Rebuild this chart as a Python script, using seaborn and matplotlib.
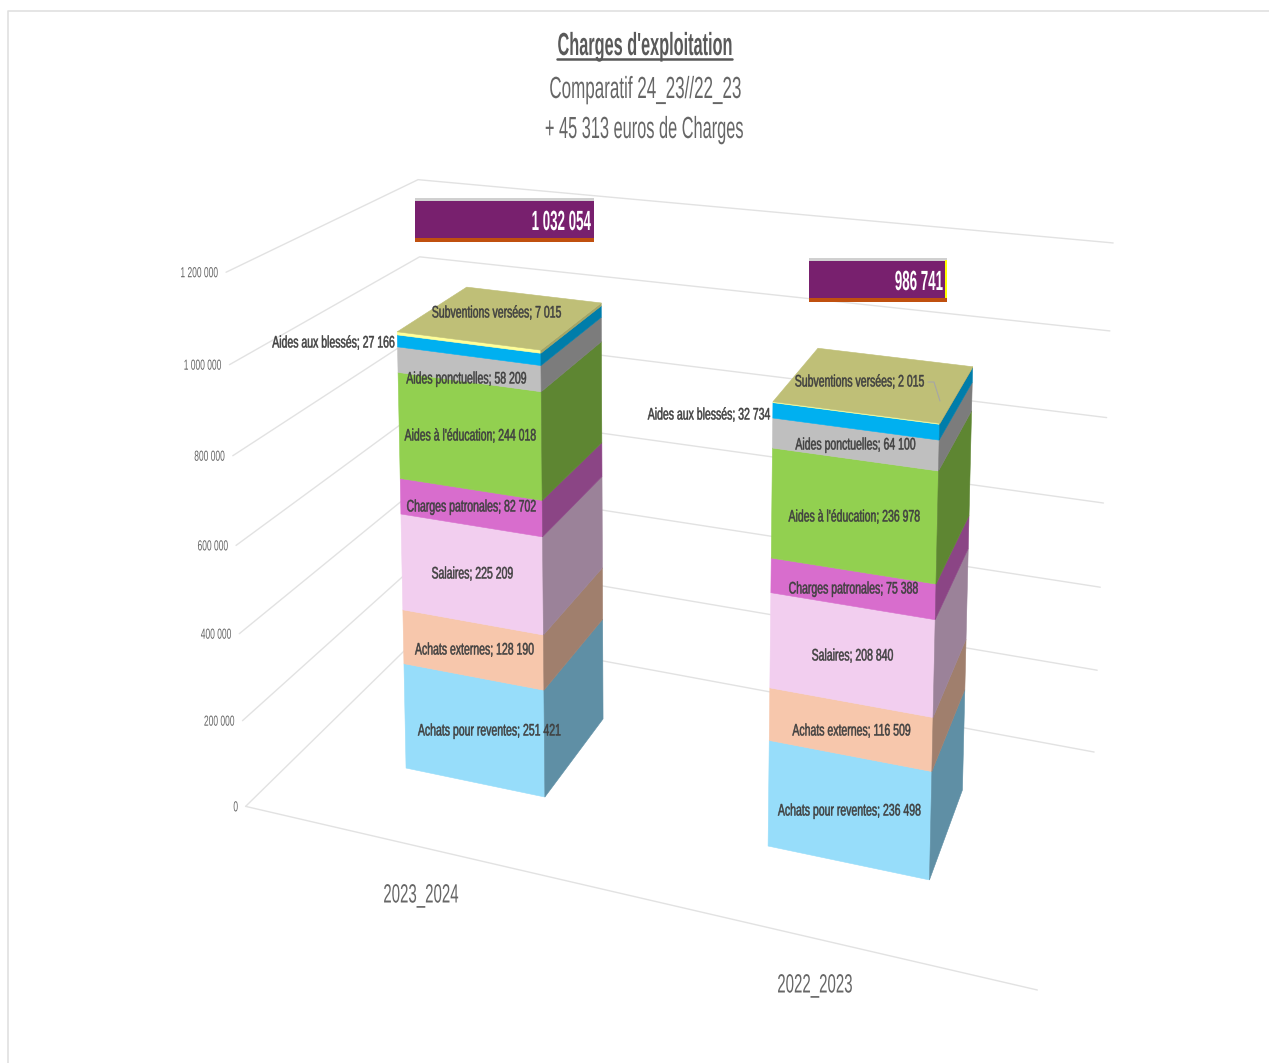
#!/usr/bin/env python3
# coding=utf-8

from matplotlib import pyplot as plt
from matplotlib.patheffects import AbstractPathEffect
from matplotlib.transforms import Affine2D, Transform
import numpy as np
import pandas as pd
import seaborn as sns

# donnees du graphique
exercices = ["2023_2024", "2022_2023"]
postes = ["Achats pour reventes", "Achats externes", "Salaires",
          "Charges patronales", "Aides à l'éducation", "Aides ponctuelles",
          "Aides aux blessés", "Subventions versées"]
montants_2023_2024 = [251421, 128190, 225209, 82702, 244018, 58209, 27166, 7015]
montants_2022_2023 = [236498, 116509, 208840, 75388, 236978, 64100, 32734, 2015]
totaux = [1032054, 986741]
graduations = [0, 200000, 400000, 600000, 800000, 1000000, 1200000]

# couleurs
couleurs_face = ["#97DDFA", "#F7C7AC", "#F2CEEF", "#D86DCD",
                 "#92D050", "#BFBFBF", "#00B0F0", "#FFFF99"]
couleurs_cote = ["#5F8FA5", "#A07F6D", "#9B8299", "#8B4585",
                 "#5E8632", "#7C7C7C", "#007DAA", "#A5A565"]
couleur_dessus = "#BFBF77"
GRIS_GRILLE = "#E2E2E2"
GRIS_TEXTE = "#666666"
NOIR_TEXTE = "#404040"

W, H = 1269, 1063
LARGEUR = 0.8

# reperes image pour le calage de la perspective (pixels)
MURS = [((0, 0, 0), (246, 807)), ((0, 1, 0), (427, 628)),
        ((1, 1, 0), (1094, 752)), ((1, 0, 0), (1037, 990)),
        ((0, 0, 1.2), (226, 272)), ((0, 1, 1.2), (418, 180)),
        ((1, 1, 1.2), (1113, 243)), ((0, 0, 0.6), (236, 545)),
        ((1, 1, 0.6), (1104, 503))]
COINS_BARRES = [
    [(406, 768), (545, 797), (603, 719),
     (397, 332), (541, 350), (601, 303), (467, 287)],
    [(768, 846), (930, 880), (962, 790),
     (773, 402), (939, 423), (973, 367), (818, 348)],
]

# positions des etiquettes (centre, pixels)
POS_LABELS = [
    [(489.5, 731), (474.5, 650), (472.5, 574), (471.5, 507),
     (470.5, 436), (466.5, 379), (333.5, 343), (496.5, 313)],
    [(849.5, 811), (851.5, 731), (852.5, 656), (853.5, 589),
     (854.5, 517), (855.5, 445), (709, 415), (859.5, 382)],
]
BOITES = [(415, 594, 198, 242, 591), (809, 947, 258, 302, 943)]


class Serre(AbstractPathEffect):
    # resserre le texte en largeur autour de x (pas de police etroite ici)
    def __init__(self, x, sx, trait=0.0):
        super().__init__()
        self.x = x
        self.sx = sx
        self.trait = trait

    def draw_path(self, renderer, gc, tpath, affine, rgbFace=None):
        aff = affine + Affine2D().translate(-self.x, 0).scale(self.sx, 1).translate(self.x, 0)
        gc0 = renderer.new_gc()
        gc0.copy_properties(gc)
        gc0.set_linewidth(self.trait)
        if self.trait:
            gc0.set_foreground(rgbFace)
        renderer.draw_path(gc0, tpath, aff, rgbFace)
        gc0.restore()


def sep(v):
    return f"{v:,}".replace(",", " ")


def calage(monde, pixels):
    # DLT : matrice 3x4 depuis des correspondances monde -> image
    A, b = [], []
    for (x, y, z), (u, v) in zip(monde, pixels):
        A.append([x, y, z, 1, 0, 0, 0, 0, -u * x, -u * y, -u * z])
        A.append([0, 0, 0, 0, x, y, z, 1, -v * x, -v * y, -v * z])
        b += [u, v]
    p = np.linalg.lstsq(np.array(A, float), np.array(b, float), rcond=None)[0]
    return np.append(p, 1).reshape(3, 4)


def projette(P, x, y, z):
    q = P @ np.array([x, y, z, 1.0])
    return q[0] / q[2], q[1] / q[2]


class FaceBarre(Transform):
    # (position categorielle, montant) -> pixel sur la face d'une barre
    input_dims = 2
    output_dims = 2
    is_affine = False

    def __init__(self, cameras, face):
        super().__init__()
        self.cameras = cameras
        self.face = face

    def transform_non_affine(self, values):
        out = []
        for x, val in np.asarray(values, float):
            i = int(round(x))
            t = (x - i) / LARGEUR + 0.5
            if self.face == "front":
                out.append(projette(self.cameras[i], t, 0, val / 1e6))
            else:
                out.append(projette(self.cameras[i], 1, t, val / 1e6))
        return np.array(out)


df = pd.DataFrame({
    "exercice": np.repeat(exercices, len(postes)),
    "poste": postes * 2,
    "montant": montants_2023_2024 + montants_2022_2023,
})
df["bas"] = df.groupby("exercice", sort=False)["montant"].cumsum() - df["montant"]
hauteurs = df.groupby("exercice", sort=False)["montant"].sum().values / 1e6

cube = [(0, 0, 0), (1, 0, 0), (1, 1, 0)]
cameras = []
for i, coins in enumerate(COINS_BARRES):
    monde = cube + [(0, 0, hauteurs[i]), (1, 0, hauteurs[i]),
                    (1, 1, hauteurs[i]), (0, 1, hauteurs[i])]
    cameras.append(calage(monde, coins))
cam_murs = calage([m[0] for m in MURS], [m[1] for m in MURS])

sns.set_theme(style="white")
plt.rcParams["font.family"] = ["Liberation Sans", "DejaVu Sans"]

fig = plt.figure(figsize=(W / 100, H / 100), dpi=100)
ax = fig.add_axes([0, 0, 1, 1])


def texte(x, y, s, sx, ha="center", trait=0.0, **kw):
    return ax.text(x, y, s, ha=ha, va="center",
                   path_effects=[Serre(x, sx, trait)], **kw)


# barres : une passe par face, chaque segment reste un barplot seaborn
for face, palette in (("front", couleurs_face), ("side", couleurs_cote)):
    tr = FaceBarre(cameras, face)
    for poste, couleur in zip(postes, palette):
        sub = df[df["poste"] == poste]
        n = len(ax.patches)
        sns.barplot(data=sub, x="exercice", y="montant", order=exercices,
                    bottom=sub["bas"].values, width=LARGEUR, color=couleur,
                    saturation=1, edgecolor=couleur, linewidth=0.4,
                    errorbar=None, ax=ax, zorder=3)
        for patch in ax.patches[n:]:
            patch.set_transform(tr + ax.transData)

ax.set_xlim(0, W)
ax.set_ylim(H, 0)
ax.axis("off")

# dessus des barres
for i, cam in enumerate(cameras):
    pts = [projette(cam, a, b, hauteurs[i]) for a, b in [(0, 0), (1, 0), (1, 1), (0, 1)]]
    ax.fill(*zip(*pts), color=couleur_dessus, lw=0.4, zorder=4)

# grille en perspective
for val in graduations:
    z = val / 1e6
    pts = [projette(cam_murs, 0, 0, z), projette(cam_murs, 0, 1, z),
           projette(cam_murs, 1, 1, z)]
    ax.plot(*zip(*pts), color=GRIS_GRILLE, lw=1.0, zorder=1)
    u, v = pts[0]
    texte(u - 7.5, v + 1, sep(val), 0.58, ha="right", fontsize=10.5, color=GRIS_TEXTE)
pts = [projette(cam_murs, 0, 0, 0), projette(cam_murs, 1, 0, 0)]
ax.plot(*zip(*pts), color=GRIS_GRILLE, lw=1.0, zorder=1)

# etiquettes de donnees
for i, montants in enumerate([montants_2023_2024, montants_2022_2023]):
    for poste, val, (u, v) in zip(postes, montants, POS_LABELS[i]):
        texte(u, v, f"{poste}; {sep(val)}", 0.63, trait=0.35,
              fontsize=12, color=NOIR_TEXTE, zorder=6)
ax.plot([928, 934, 940], [382, 382, 401], color="#A6A6A6", lw=0.8, zorder=5)

# boites des totaux
for (x0, x1, y0, y1, xt), total in zip(BOITES, totaux):
    ax.fill_between([x0, x1], y0, y0 + 3, color="#D0D0D0", lw=0, zorder=5)
    ax.fill_between([x0, x1], y0 + 3, y1 - 4, color="#78206E", lw=0, zorder=5)
    ax.fill_between([x0, x1], y1 - 4, y1, color="#C0500F", lw=0, zorder=5)
    texte(xt, (y0 + y1) / 2 + 3, sep(total), 0.48, ha="right",
          fontsize=20, color="white", fontweight="bold", zorder=6)
ax.fill_between([945, 947], 260, 298, color="#FFFF00", lw=0, zorder=6)

# axe des categories
texte(421, 895.5, exercices[0], 0.57, fontsize=19, color=GRIS_TEXTE)
texte(815, 985.5, exercices[1], 0.57, fontsize=19, color=GRIS_TEXTE)

# titres
texte(645, 47, "Charges d'exploitation", 0.51, fontsize=23,
      fontweight="bold", color="#595959")
ax.plot([557, 732], [59, 59], color="#595959", lw=1.8)
texte(645, 90, "Comparatif 24_23//22_23", 0.557, fontsize=22, color=GRIS_TEXTE)
texte(644, 130, "+ 45 313 euros de Charges", 0.535, fontsize=22, color=GRIS_TEXTE)

# cadre du graphique
ax.plot([8, 8, W], [H, 11, 11], color="#E0E0E0", lw=1.2)

fig.savefig("out.png", dpi=100)
